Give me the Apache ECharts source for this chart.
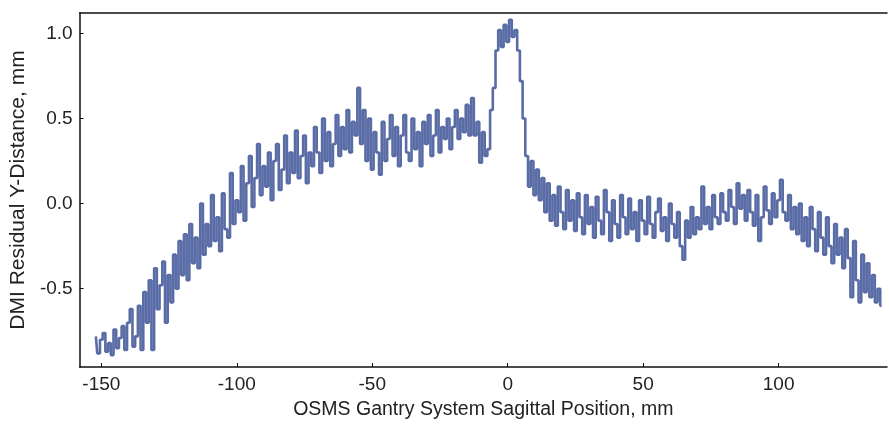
<!DOCTYPE html>
<html>
<head>
<meta charset="utf-8">
<script src="https://cdn.jsdelivr.net/npm/echarts@6/dist/echarts.min.js"></script>
<style>
  html, body { margin: 0; padding: 0; background: #fff; }
  #chart { width: 889px; height: 427px; }
</style>
</head>
<body>
<div id="chart"></div>
<script>
// sampling grid along the sagittal axis, mm
var xStart = -152;
var xStep = 1;

// residual Y-distance, mm, one value per mm from -152 to 138
var residual = [
  -0.78, -0.88, -0.80, -0.76, -0.87, -0.82, -0.89, -0.74, -0.85, -0.79,
  -0.72, -0.86, -0.70, -0.62, -0.84, -0.78, -0.60, -0.86, -0.52, -0.70,
  -0.45, -0.86, -0.38, -0.62, -0.48, -0.34, -0.70, -0.42, -0.58, -0.30,
  -0.50, -0.22, -0.42, -0.18, -0.45, -0.12, -0.35, -0.20, -0.38, 0.00,
  -0.30, -0.12, -0.25, 0.05, -0.22, -0.08, -0.28, 0.06, -0.15, -0.20,
  0.18, -0.12, 0.02, -0.05, 0.22, -0.10, 0.12, 0.28, -0.02, 0.15,
  0.35, 0.05, 0.22, 0.10, 0.30, 0.02, 0.25, 0.35, 0.08, 0.20,
  0.40, 0.12, 0.30, 0.18, 0.43, 0.15, 0.28, 0.40, 0.12, 0.30,
  0.22, 0.45, 0.30, 0.18, 0.50, 0.25, 0.42, 0.22, 0.35, 0.52,
  0.28, 0.45, 0.32, 0.55, 0.30, 0.48, 0.40, 0.68, 0.35, 0.55,
  0.25, 0.50, 0.20, 0.42, 0.30, 0.17, 0.48, 0.25, 0.38, 0.52,
  0.28, 0.45, 0.22, 0.40, 0.52, 0.30, 0.25, 0.50, 0.32, 0.42,
  0.22, 0.48, 0.35, 0.52, 0.28, 0.40, 0.55, 0.30, 0.45, 0.38,
  0.50, 0.32, 0.45, 0.55, 0.38, 0.50, 0.42, 0.58, 0.40, 0.62,
  0.40, 0.48, 0.24, 0.42, 0.28, 0.32, 0.55, 0.68, 0.90, 1.02,
  0.92, 1.05, 0.95, 1.08, 0.98, 1.02, 0.90, 0.72, 0.50, 0.28,
  0.10, 0.25, 0.05, 0.20, 0.02, 0.15, -0.05, 0.12, -0.10, 0.05,
  -0.13, 0.10, -0.05, -0.15, 0.08, -0.10, 0.02, -0.16, 0.06, -0.08,
  -0.18, 0.05, -0.12, -0.02, -0.20, 0.04, -0.10, -0.18, 0.08, -0.05,
  -0.22, 0.02, -0.12, -0.20, 0.05, -0.08, -0.18, 0.03, -0.15, -0.05,
  -0.22, 0.02, -0.10, -0.18, 0.04, -0.12, -0.20, -0.05, 0.03, -0.16,
  -0.08, -0.22, 0.00, -0.12, -0.20, -0.05, -0.25, -0.33, -0.10, -0.20,
  -0.02, -0.18, -0.08, -0.15, 0.10, -0.12, -0.02, -0.15, 0.05, -0.08,
  -0.12, 0.06, -0.05, -0.10, 0.08, -0.02, -0.12, 0.12, -0.03, 0.05,
  -0.10, 0.08, -0.05, -0.13, 0.05, -0.22, -0.08, 0.10, -0.04, -0.12,
  0.06, -0.08, 0.02, 0.14, -0.05, -0.10, 0.05, -0.15, -0.02, -0.18,
  0.00, -0.22, -0.08, -0.25, -0.02, -0.15, -0.28, -0.05, -0.20, -0.30,
  -0.08, -0.25, -0.35, -0.12, -0.30, -0.20, -0.38, -0.15, -0.32, -0.55,
  -0.22, -0.45, -0.58, -0.30, -0.52, -0.35, -0.55, -0.42, -0.58, -0.50,
  -0.60
];

var xTicks = [-150, -100, -50, 0, 50, 100];
var yTicks = [-0.5, 0.0, 0.5, 1.0];

var points = [];
for (var i = 0; i < residual.length; i++) {
  points.push([xStart + i * xStep, residual[i]]);
}

var myChart = echarts.init(document.getElementById('chart'));
var font = 'Liberation Sans, Arial, sans-serif';
var option = {
  animation: false,
  grid: { left: 78, right: 2, top: 13, bottom: 60 },
  xAxis: [
    {
      type: 'value',
      min: -158,
      max: 140,
      name: 'OSMS Gantry System Sagittal Position, mm',
      nameLocation: 'middle',
      nameGap: 33,
      nameTextStyle: { fontFamily: font, fontSize: 19.5, color: '#222' },
      splitLine: { show: false },
      axisLine: { onZero: false, lineStyle: { color: '#111', width: 1.5 } },
      axisTick: { inside: true, length: 4, customValues: xTicks, lineStyle: { color: '#111' } },
      axisLabel: { customValues: xTicks, margin: 8, fontFamily: font, fontSize: 19, color: '#222' }
    },
    {
      type: 'value',
      position: 'top',
      min: -158,
      max: 140,
      splitLine: { show: false },
      axisLine: { show: true, onZero: false, lineStyle: { color: '#111', width: 1.5 } },
      axisTick: { show: false },
      axisLabel: { show: false }
    }
  ],
  yAxis: {
    type: 'value',
    min: -0.96,
    max: 1.12,
    name: 'DMI Residual Y-Distance, mm',
    nameLocation: 'middle',
    nameGap: 50,
    nameTextStyle: { fontFamily: font, fontSize: 21, color: '#222' },
    splitLine: { show: false },
    axisLine: { show: true, onZero: false, lineStyle: { color: '#111', width: 1.5 } },
    axisTick: { show: true, inside: true, length: 4, customValues: yTicks, lineStyle: { color: '#111' } },
    axisLabel: {
      customValues: yTicks,
      margin: 7,
      fontFamily: font,
      fontSize: 19,
      color: '#222',
      formatter: function (v) { return v.toFixed(1); }
    }
  },
  series: [
    {
      type: 'line',
      xAxisIndex: 0,
      data: points,
      step: 'middle',
      showSymbol: false,
      lineStyle: { color: '#5a6ca6', width: 2.6 }
    }
  ]
};
myChart.setOption(option);
</script>
</body>
</html>
